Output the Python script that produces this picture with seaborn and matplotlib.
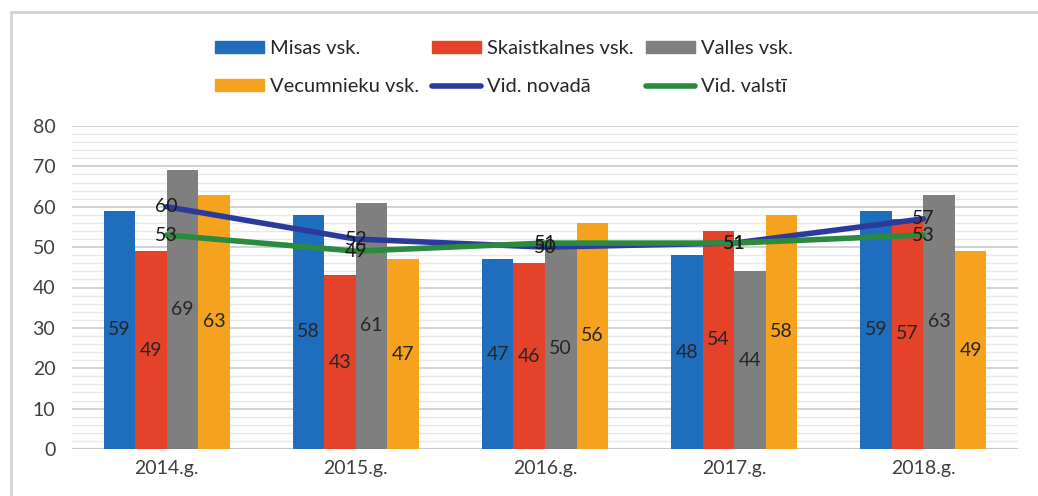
import matplotlib
matplotlib.use('Agg')
import matplotlib.pyplot as plt
import numpy as np
import pandas as pd
import seaborn as sns
from matplotlib.lines import Line2D
from matplotlib.patches import Patch, Rectangle
from matplotlib.ticker import MultipleLocator

# %%
# Data
years = ['2014.g.', '2015.g.', '2016.g.', '2017.g.', '2018.g.']

bar_series = ['Misas vsk.', 'Skaistkalnes vsk.', 'Valles vsk.', 'Vecumnieku vsk.']
misas = [59, 58, 47, 48, 59]
skaistkalnes = [49, 43, 46, 54, 57]
valles = [69, 61, 50, 44, 63]
vecumnieku = [63, 47, 56, 58, 49]

line_series = ['Vid. novadā', 'Vid. valstī']
vid_novada = [60, 52, 50, 51, 57]
vid_valsti = [53, 49, 51, 51, 53]

bar_colors = ['#1f6dbd', '#e4432a', '#7f7f7f', '#f5a21f']
line_colors = ['#2c3a9c', '#2a8a3e']

# %%
bar_df = pd.DataFrame({
    'year': years * 4,
    'value': misas + skaistkalnes + valles + vecumnieku,
    'series': np.repeat(bar_series, len(years)),
})
line_df = pd.DataFrame({
    'pos': list(range(len(years))) * 2,
    'value': vid_novada + vid_valsti,
    'series': np.repeat(line_series, len(years)),
})

sns.set_style('white')
plt.rcParams['font.family'] = ['Lato', 'DejaVu Sans']

fig = plt.figure(figsize=(10.38, 4.96), dpi=100)
ax = fig.add_axes([72 / 1038, 47 / 496, (1018 - 72) / 1038, (449 - 126) / 496])

sns.barplot(
    data=bar_df, x='year', y='value', hue='series', hue_order=bar_series,
    palette=bar_colors, width=0.667, saturation=1, gap=0, legend=False,
    errorbar=None, linewidth=0, ax=ax, zorder=2,
)
sns.lineplot(
    data=line_df, x='pos', y='value', hue='series', hue_order=line_series,
    palette=line_colors, linewidth=4, legend=False, ax=ax, zorder=3,
)

# value labels
for cont in ax.containers:
    ax.bar_label(cont, label_type='center', fontsize=14, color='#262626')
for vals in (vid_novada, vid_valsti):
    for i, v in enumerate(vals):
        ax.text(i, v, str(v), ha='center', va='center', fontsize=14,
                color='#1a1a1a', zorder=4)

ax.set_xlim(-0.5, 4.5)
ax.set_ylim(0, 80)
ax.yaxis.set_major_locator(MultipleLocator(10))
ax.yaxis.set_minor_locator(MultipleLocator(2))
ax.grid(axis='y', which='major', color='#cfcfcf', linewidth=1.3, zorder=0)
ax.grid(axis='y', which='minor', color='#e8e8e8', linewidth=1.0, zorder=0)
ax.set_axisbelow(True)
for s in ax.spines.values():
    s.set_visible(False)
ax.axhline(0, color='#c8c8c8', linewidth=1.5, zorder=1)
ax.tick_params(axis='both', which='both', length=0, labelsize=14,
               colors='#404040')
ax.tick_params(axis='y', pad=12)
ax.tick_params(axis='x', pad=8)
ax.set_xlabel('')
ax.set_ylabel('')

# legend: 2 rows x 3 columns (filled column-wise)
handles = {
    'Misas vsk.': Patch(color=bar_colors[0]),
    'Skaistkalnes vsk.': Patch(color=bar_colors[1]),
    'Valles vsk.': Patch(color=bar_colors[2]),
    'Vecumnieku vsk.': Patch(color=bar_colors[3]),
    'Vid. novadā': Line2D([], [], color=line_colors[0], linewidth=4),
    'Vid. valstī': Line2D([], [], color=line_colors[1], linewidth=4),
}
order = ['Misas vsk.', 'Vecumnieku vsk.', 'Skaistkalnes vsk.', 'Vid. novadā',
         'Valles vsk.', 'Vid. valstī']
fig.legend(
    [handles[k] for k in order], order, ncol=3, frameon=False,
    loc='upper left', bbox_to_anchor=(205 / 1038, 1 - 30 / 496),
    prop={'family': ['Lato', 'DejaVu Sans'], 'size': 14.5},
    handlelength=2.45, handleheight=0.5, handletextpad=0.3,
    columnspacing=0.6, labelspacing=1.05, borderpad=0,
)

# outer chart frame
fig.patches.append(Rectangle((11 / 1038, -0.1), 1.2, 1 - 12 / 496 + 0.1,
                             transform=fig.transFigure, fill=False,
                             edgecolor='#d4d4d4', linewidth=2))

fig.savefig('out.png', dpi=100)
